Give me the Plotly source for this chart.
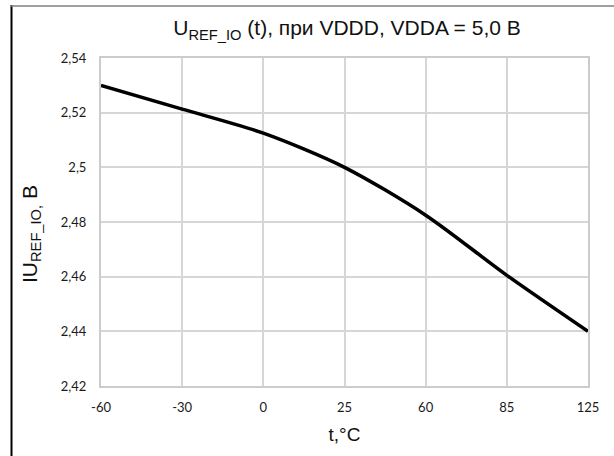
import plotly.graph_objects as go

# Reference voltage vs temperature
temps = ["-60", "-30", "0", "25", "60", "85", "125"]
u_ref = [2.530, 2.5213, 2.5125, 2.500, 2.4825, 2.4605, 2.440]

y_ticks = [2.42, 2.44, 2.46, 2.48, 2.50, 2.52, 2.54]
y_tick_text = ["2,42", "2,44", "2,46", "2,48", "2,5", "2,52", "2,54"]

W, H = 614, 456
L, R, T, B = 101, 26, 58, 70
pw, ph = W - L - R, H - T - B


def px_x(x):
    return (x - L) / pw


def px_y(y):
    return (H - B - y) / ph


fig = go.Figure()
fig.add_trace(go.Scatter(
    x=temps, y=u_ref, mode="lines",
    line=dict(color="black", width=3.5, shape="spline", smoothing=0.8),
    hoverinfo="skip", showlegend=False,
))

grid = "#d6d6d6"
tick_font = dict(family="Lato, Liberation Sans, sans-serif", size=13, color="#1a1a1a")
title_font = dict(family="Liberation Sans, Arial", size=19, color="#111")
fig.update_xaxes(
    type="category", range=[0, len(temps) - 1],
    showgrid=True, gridcolor=grid, gridwidth=2,
    showline=True, linecolor="#cccccc", linewidth=2, mirror=True,
    ticks="", tickfont=tick_font, ticklabelstandoff=8,
    title=dict(text="t,°C", font=title_font, standoff=14),
    zeroline=False, fixedrange=True, layer="below traces",
)
fig.update_yaxes(
    range=[2.42, 2.54], tickvals=y_ticks, ticktext=y_tick_text,
    showgrid=True, gridcolor=grid, gridwidth=2,
    showline=True, linecolor="#cccccc", linewidth=2, mirror=True,
    ticks="", tickfont=tick_font, ticklabelstandoff=10,
    zeroline=False, fixedrange=True, layer="below traces",
)

# Y axis title, placed a bit below the plot's vertical centre
fig.add_annotation(
    text="IU<sub>REF_IO,</sub> B", textangle=-90,
    xref="paper", yref="paper", x=px_x(31), y=px_y(234),
    xanchor="center", yanchor="middle", showarrow=False,
    font=dict(family="Liberation Sans, Arial", size=21, color="#111"),
)

# Chart frame: dark left edge, grey top edge
fig.add_shape(type="line", xref="paper", yref="paper",
              x0=px_x(11.5), x1=px_x(11.5), y0=px_y(5), y1=px_y(470),
              line=dict(color="black", width=2))
fig.add_shape(type="line", xref="paper", yref="paper",
              x0=px_x(11), x1=px_x(620), y0=px_y(6), y1=px_y(6),
              line=dict(color="#808080", width=1.5))

fig.update_layout(
    width=W, height=H,
    margin=dict(l=L, r=R, t=T, b=B),
    paper_bgcolor="white", plot_bgcolor="white",
    title=dict(
        text="U<sub>REF_IO</sub> (t), при VDDD, VDDA = 5,0 В",
        font=dict(family="Liberation Sans, Arial", size=21, color="#111"),
        x=px_x(347), xref="paper", xanchor="center",
        y=1 - 28 / H, yref="container", yanchor="middle",
    ),
)

fig.write_html("out.html")
